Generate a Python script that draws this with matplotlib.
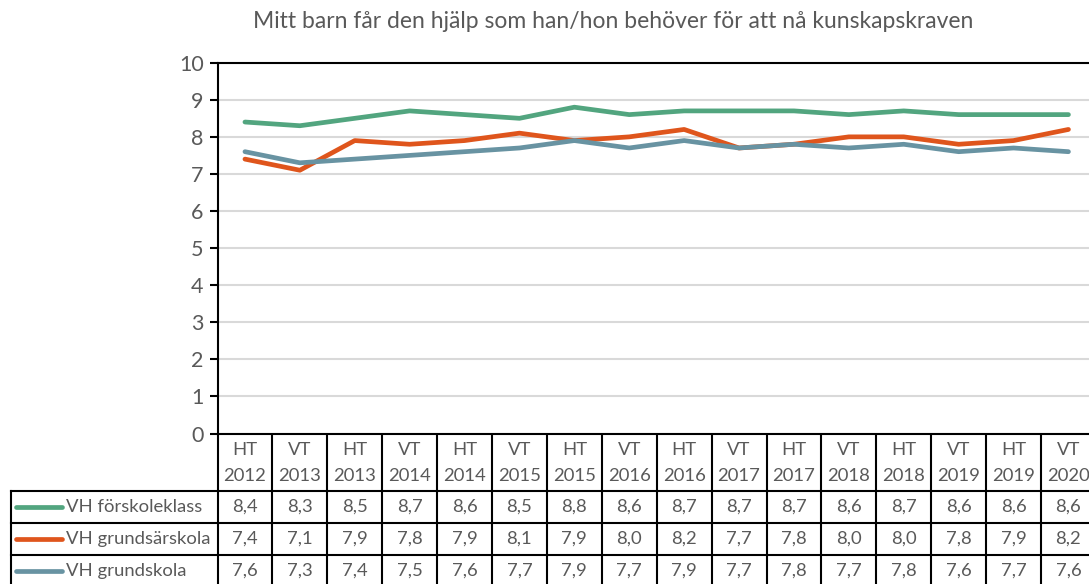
import matplotlib
matplotlib.use('Agg')
import matplotlib.pyplot as plt
from matplotlib.transforms import blended_transform_factory

plt.rcParams['font.family'] = ['Lato', 'DejaVu Sans']

# data
periods = ['HT\n2012', 'VT\n2013', 'HT\n2013', 'VT\n2014', 'HT\n2014', 'VT\n2015',
           'HT\n2015', 'VT\n2016', 'HT\n2016', 'VT\n2017', 'HT\n2017', 'VT\n2018',
           'HT\n2018', 'VT\n2019', 'HT\n2019', 'VT\n2020']
forskoleklass = [8.4, 8.3, 8.5, 8.7, 8.6, 8.5, 8.8, 8.6, 8.7, 8.7, 8.7, 8.6, 8.7, 8.6, 8.6, 8.6]
grundsarskola = [7.4, 7.1, 7.9, 7.8, 7.9, 8.1, 7.9, 8.0, 8.2, 7.7, 7.8, 8.0, 8.0, 7.8, 7.9, 8.2]
grundskola = [7.6, 7.3, 7.4, 7.5, 7.6, 7.7, 7.9, 7.7, 7.9, 7.7, 7.8, 7.7, 7.8, 7.6, 7.7, 7.6]
series_names = ['VH förskoleklass', 'VH grundsärskola', 'VH grundskola']
series_values = [forskoleklass, grundsarskola, grundskola]
colors = ['#52A57F', '#DF551C', '#6893A2']
title = 'Mitt barn får den hjälp som han/hon behöver för att nå kunskapskraven'

W, H = 1089, 584
TXT = '#595959'

fig = plt.figure(figsize=(W / 100, H / 100), dpi=100)

# overlay in pixel coordinates for the table
over = fig.add_axes([0, 0, 1, 1])
over.set_xlim(0, W)
over.set_ylim(H, 0)
over.axis('off')

# plot area
x0, y_bot, col_w, y_top = 217.5, 433.5, 54.9, 62.7
n = len(periods)
ax = fig.add_axes([x0 / W, (H - y_bot) / H, n * col_w / W, (y_bot - y_top) / H])
ax.set_xlim(-0.5, n - 0.5)
ax.set_ylim(0, 10)
ax.set_yticks(range(0, 11))
ax.set_xticks([])
ax.yaxis.grid(True, color='#D9D9D9', lw=1.5)
ax.set_axisbelow(True)
for s in ['left', 'top', 'bottom']:
    ax.spines[s].set_color('black')
    ax.spines[s].set_linewidth(1.5)
ax.spines['right'].set_visible(False)
ax.tick_params(axis='y', direction='out', length=6, width=1.5, color='black',
               labelsize=15.5, labelcolor=TXT, pad=4)

xs = list(range(n))
for vals, c in zip(series_values, colors):
    ax.plot(xs, vals, color=c, lw=3.4, solid_capstyle='round', solid_joinstyle='round')

fig.text(613 / W, 1 - 22 / H, title, ha='center', va='center', fontsize=16.5, color=TXT)

# data table under the axis
tr = blended_transform_factory(ax.transData, over.transData)
row_lines = [491, 523, 555]
row_centers = [507, 539, 571]
lw_t = 1.5
fs = 13.3

for i in range(n + 1):
    over.plot([i - 0.5, i - 0.5], [y_bot, H + 5], color='black', lw=lw_t,
              transform=tr, clip_on=False)
for y in row_lines:
    over.plot([11, W + 20], [y, y], color='black', lw=lw_t, clip_on=False)
over.plot([11, 11], [row_lines[0], H + 5], color='black', lw=lw_t, clip_on=False)

for i, p in enumerate(periods):
    top, bottom = p.split('\n')
    over.text(i, 450, top, transform=tr, ha='center', va='center', fontsize=fs, color=TXT)
    over.text(i, 476, bottom, transform=tr, ha='center', va='center', fontsize=fs, color=TXT)

for r, (name, vals, c) in enumerate(zip(series_names, series_values, colors)):
    yc = row_centers[r]
    over.plot([16, 62], [yc, yc], color=c, lw=3.4, solid_capstyle='round')
    over.text(66, yc, name, ha='left', va='center', fontsize=fs, color=TXT)
    for i, v in enumerate(vals):
        over.text(i, yc, f'{v:.1f}'.replace('.', ','), transform=tr,
                  ha='center', va='center', fontsize=fs, color=TXT)

fig.savefig('out.png', dpi=100)
